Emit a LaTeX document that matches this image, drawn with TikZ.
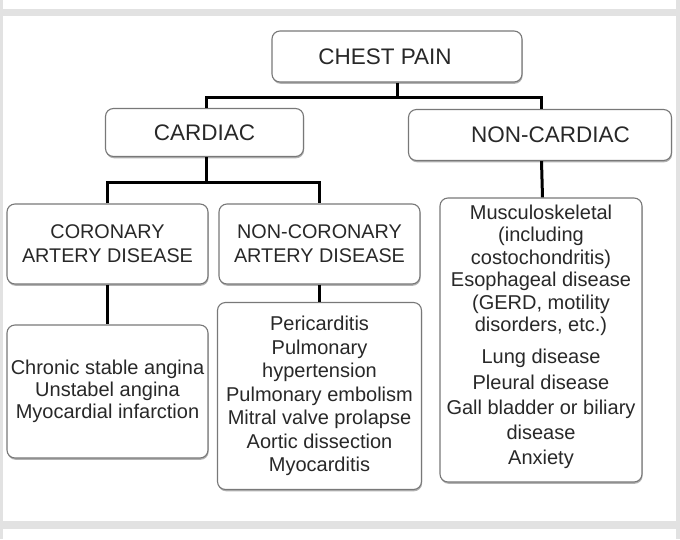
\documentclass[tikz,border=0pt]{standalone}
\usepackage{fontspec}
\setmainfont{Liberation Sans}
\usetikzlibrary{shadows}
\definecolor{framegray}{RGB}{226,226,226}
\definecolor{boxline}{RGB}{120,120,120}
\definecolor{txt}{RGB}{40,40,40}
\tikzset{
  box/.style={draw=boxline, line width=1.1pt, fill=white, rounded corners=8pt,
    align=center, inner sep=0pt, text=txt,
    drop shadow={shadow xshift=0.6pt, shadow yshift=-1.8pt, fill=black!55, opacity=0.55}},
  head/.style={box, font=\fontsize{22.5}{26}\selectfont},
  sub/.style={box, font=\fontsize{19.8}{24}\selectfont},
  list/.style={box, font=\fontsize{20}{23.5}\selectfont},
  conn/.style={draw=black, line width=3pt, line join=miter}
}
\begin{document}
\begin{tikzpicture}[x=1pt,y=-1pt]
\useasboundingbox (0,0) rectangle (680,539);
\fill[framegray] (0,0) rectangle (680,539);
\fill[white] (3,0) rectangle (676,9);
\fill[white] (3,16) rectangle (676,521);
\fill[white] (3,529) rectangle (676,539);

\node[head, minimum width=250pt, minimum height=51pt] (chest) at (397,56.5) {\hspace*{-24pt}CHEST PAIN};
\node[head, minimum width=198pt, minimum height=48pt] (cardiac) at (204.5,132.5) {CARDIAC};
\node[head, minimum width=263pt, minimum height=51pt] (noncardiac) at (540,135) {\hspace*{21pt}NON-CARDIAC};
\node[sub, minimum width=201pt, minimum height=80pt] (cad) at (107.5,244) {CORONARY\\ARTERY DISEASE};
\node[sub, minimum width=201pt, minimum height=80pt] (ncad) at (319.5,244) {NON-CORONARY\\ARTERY DISEASE};
\node[list, minimum width=201pt, minimum height=133pt, font=\fontsize{20}{22}\selectfont] (chronic) at (107.5,391.5)
  {Chronic stable angina\\Unstabel angina\\Myocardial infarction};
\node[list, minimum width=204pt, minimum height=187pt] (peri) at (319.5,396)
  {Pericarditis\\Pulmonary\\hypertension\\Pulmonary embolism\\Mitral valve prolapse\\Aortic dissection\\Myocarditis};
\node[list, minimum width=202pt, minimum height=284pt, font=\fontsize{20}{22.4}\selectfont] (musc) at (541,340)
  {Musculoskeletal\\(including\\costochondritis)\\Esophageal disease\\(GERD, motility\\disorders, etc.)\\[10pt]
   Lung disease\\[3pt]Pleural disease\\[3pt]Gall bladder or biliary\\[2pt]disease\\[3pt]Anxiety\\[-12pt]};

\coordinate (j1) at (397,97);
\coordinate (j2) at (206,182);
\draw[conn] (chest.south) -- (j1);
\draw[conn] ([xshift=1.5pt]cardiac.north) |- (j1) -| ([xshift=1.5pt]noncardiac.north);
\draw[conn] ([xshift=1.5pt]cardiac.south) -- (j2);
\draw[conn] (cad.north) |- (j2) -| (ncad.north);
\draw[conn] ([xshift=1.5pt]noncardiac.south) -- ([xshift=1.5pt]musc.north);
\draw[conn] (cad.south) -- (chronic.north);
\draw[conn] (ncad.south) -- (peri.north);
\end{tikzpicture}
\end{document}
